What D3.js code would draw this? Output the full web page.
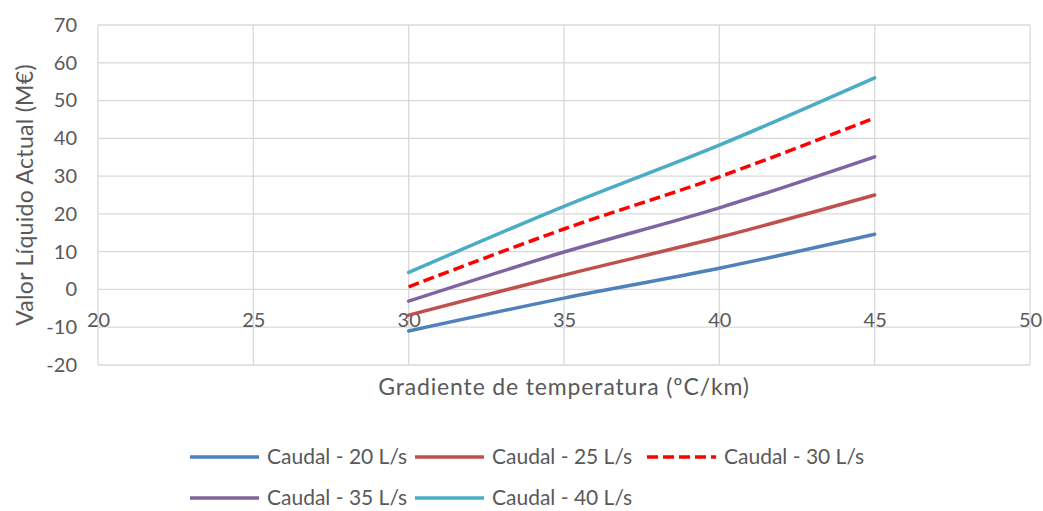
<!DOCTYPE html>
<html><head><meta charset="utf-8">
<script src="https://cdn.jsdelivr.net/npm/d3@7"></script>
<style>body{margin:0;background:#fff}svg{display:block}text{font-family:Lato,sans-serif;fill:#595959}</style>
</head><body><svg id="c" width="1043" height="511"></svg>
<script>
const xCats = [30, 35, 40, 45];
const s20 = [-11.0, -2.3, 5.6, 14.6];
const s25 = [-6.8, 3.8, 13.8, 25.0];
const s30 = [0.7, 16.0, 29.8, 45.4];
const s35 = [-3.1, 9.9, 21.6, 35.1];
const s40 = [4.5, 22.0, 38.2, 56.0];
const seriesNames = ["Caudal - 20 L/s","Caudal - 25 L/s","Caudal - 30 L/s","Caudal - 35 L/s","Caudal - 40 L/s"];
const xTicks = [20, 25, 30, 35, 40, 45, 50];
const yTicks = [-20, -10, 0, 10, 20, 30, 40, 50, 60, 70];
const xTitle = "Gradiente de temperatura (ºC/km)";
const yTitle = "Valor Líquido Actual (M€)";

const series = [
  {name: seriesNames[0], vals: s20, color: "#4F81BD", dash: null},
  {name: seriesNames[1], vals: s25, color: "#C0504D", dash: null},
  {name: seriesNames[2], vals: s30, color: "#FF0000", dash: "11,5"},
  {name: seriesNames[3], vals: s35, color: "#8064A2", dash: null},
  {name: seriesNames[4], vals: s40, color: "#4BACC6", dash: null}
];

const svg = d3.select("#c");
const L = 98, R = 1030, T = 25, B = 365;
const x = d3.scaleLinear().domain([20, 50]).range([L, R]);
const y = d3.scaleLinear().domain([-20, 70]).range([B, T]);
const fmt = d => String(d);

// gridlines
const g = svg.append("g");
g.selectAll(".hg").data(yTicks).enter().append("line")
  .attr("x1", L).attr("x2", R).attr("y1", d => y(d)).attr("y2", d => y(d))
  .attr("stroke", "#D9D9D9").attr("stroke-width", 1.3);
g.selectAll(".vg").data(xTicks).enter().append("line")
  .attr("x1", d => x(d)).attr("x2", d => x(d)).attr("y1", T).attr("y2", B)
  .attr("stroke", "#D9D9D9").attr("stroke-width", 1.3);

// y axis labels
const yAxis = d3.axisLeft(y).tickValues(yTicks).tickFormat(fmt).tickSize(0).tickPadding(21);
const ya = svg.append("g").attr("transform", `translate(${L},0)`).call(yAxis);
ya.select(".domain").remove();
ya.selectAll("text").attr("font-size", 20).attr("font-family", "Lato").attr("fill", "#595959");

// x axis labels at y=0 crossing
const xAxis = d3.axisBottom(x).tickValues(xTicks).tickFormat(fmt).tickSize(0).tickPadding(23);
const xa = svg.append("g").attr("transform", `translate(0,${y(0)})`).call(xAxis);
xa.select(".domain").remove();
xa.selectAll("text").attr("font-size", 20).attr("font-family", "Lato").attr("fill", "#595959");

// lines
const line = d3.line().x((d, i) => x(xCats[i])).y(d => y(d)).curve(d3.curveCatmullRom.alpha(0.5));
series.forEach(s => {
  svg.append("path").datum(s.vals).attr("d", line)
    .attr("fill", "none").attr("stroke", s.color).attr("stroke-width", 3.5)
    .attr("stroke-dasharray", s.dash).attr("stroke-linecap", s.dash ? "butt" : "round");
});

// titles
svg.append("text").attr("x", 564).attr("y", 395).attr("text-anchor", "middle")
  .attr("font-size", 23).attr("letter-spacing", 0.85).text(xTitle);
svg.append("text").attr("transform", `translate(33,${(T + B) / 2}) rotate(-90)`).attr("text-anchor", "middle")
  .attr("font-size", 23).attr("letter-spacing", 0.3).text(yTitle);

// legend
const legPos = [[190, 457], [415, 457], [647, 457], [190, 498], [415, 498]];
series.forEach((s, i) => {
  const [lx, ly] = legPos[i];
  svg.append("line").attr("x1", lx).attr("x2", lx + 69).attr("y1", ly).attr("y2", ly)
    .attr("stroke", s.color).attr("stroke-width", 3.5).attr("stroke-dasharray", s.dash);
  svg.append("text").attr("x", lx + 77).attr("y", ly + 7).attr("font-size", 21).text(s.name);
});
</script></body></html>
